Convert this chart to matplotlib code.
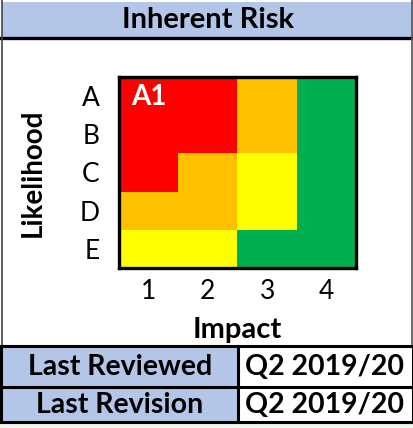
import numpy as np
import matplotlib.pyplot as plt
from matplotlib.colors import ListedColormap
from matplotlib.patches import Rectangle

# risk level per cell: 0 green, 1 yellow, 2 amber, 3 red
likelihood = ["A", "B", "C", "D", "E"]
impact = ["1", "2", "3", "4"]
risk = [[3, 3, 2, 0],
        [3, 3, 2, 0],
        [3, 2, 1, 0],
        [2, 2, 1, 0],
        [1, 1, 0, 0]]
current = ("A", "1")
review_rows = ["Last Reviewed", "Last Revision"]
review_vals = ["Q2 2019/20", "Q2 2019/20"]
title = "Inherent Risk"

plt.rcParams['font.family'] = ['Lato', 'DejaVu Sans']

W, H = 414, 428
fig = plt.figure(figsize=(W / 100, H / 100), dpi=100)
bg = fig.add_axes([0, 0, 1, 1])
bg.set_xlim(0, W)
bg.set_ylim(H, 0)
bg.axis("off")

blue = "#B4C6E7"
# title band
bg.add_patch(Rectangle((2, 2), 411, 35, facecolor=blue, edgecolor="none"))
bg.plot([0, W], [38, 38], color="black", lw=2.4)
bg.plot([2, 2], [0, 346], color="#444444", lw=1.2)
bg.plot([412.5, 412.5], [0, 346], color="#555555", lw=1.2)
bg.text(208, 20, title, ha="center", va="center", fontsize=21, fontweight="bold")

# bottom table
bg.add_patch(Rectangle((0, 423), W, 5, facecolor="#EEF7EA", edgecolor="none"))
bg.add_patch(Rectangle((2, 347), 236, 75, facecolor=blue, edgecolor="none"))
for y in [346, 386.5, 422]:
    bg.plot([0, W], [y, y], color="black", lw=2.2)
for x in [1, 238.5, 413]:
    bg.plot([x, x], [346, 422], color="black", lw=2.2)
for i, (lab, val) in enumerate(zip(review_rows, review_vals)):
    yc = 367 + i * 38
    bg.text(120, yc, lab, ha="center", va="center", fontsize=20.5, fontweight="bold")
    bg.text(325, yc, val, ha="center", va="center", fontsize=20.5, fontweight="bold")

# heat map
cmap = ListedColormap(["#00B050", "#FFFF00", "#FFC000", "#FF0000"])
ax = fig.add_axes([119 / W, 1 - 268 / H, 237 / W, 191 / H])
ax.imshow(np.array(risk), cmap=cmap, vmin=-0.5, vmax=3.5, aspect="auto",
          interpolation="nearest")
ax.set_xticks(range(len(impact)))
ax.set_xticklabels(impact, fontsize=19)
ax.set_yticks(range(len(likelihood)))
ax.set_yticklabels(likelihood, fontsize=19)
ax.tick_params(length=0, pad=8)
ax.tick_params(axis="y", pad=14)
for s in ax.spines.values():
    s.set_linewidth(2.4)
ax.set_xlabel("Impact", fontsize=21, fontweight="bold", labelpad=9)
ax.set_ylabel("Likelihood", fontsize=20, fontweight="bold", labelpad=24)
r = likelihood.index(current[0])
c = impact.index(current[1])
ax.text(c, r + 0.02, current[0] + current[1], color="white", fontsize=20,
        fontweight="bold", ha="center", va="center")

fig.savefig("out.png", dpi=100)
